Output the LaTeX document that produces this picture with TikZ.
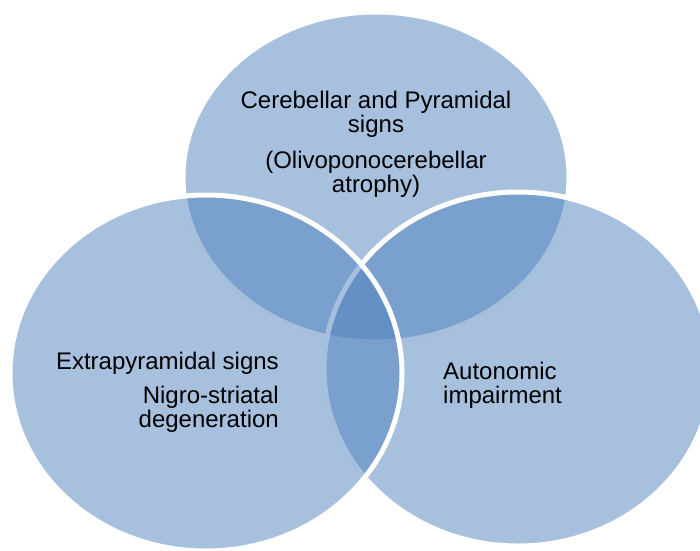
\documentclass[tikz,border=0pt]{standalone}
\usepackage{fontspec}
\setmainfont{Liberation Sans}
\definecolor{vennblue}{HTML}{4F81BD}
\begin{document}
\begin{tikzpicture}[x=1pt,y=-1pt,
  venn/.style={draw=white,line width=5pt,fill=vennblue,fill opacity=.5},
  lbl/.style={font=\fontsize{24}{24}\selectfont,inner sep=0pt,anchor=base}]
\useasboundingbox (0,0) rectangle (700,550);
% top, right, left (left one is drawn last)
\foreach \cx/\cy/\rx/\ry in {376/177/193/165,518/369/194/177,206/373/196/178}
{
    \draw[venn] (\cx,\cy) ellipse [x radius=\rx pt,y radius=\ry pt];
}

% base anchor of a two-line label sits on its last line
\node[lbl,align=center] (cereb) at (376,132) {Cerebellar and Pyramidal\\signs};
\node[lbl,align=center] (olivo) at (376,192) {(Olivoponocerebellar\\atrophy)};
\node[lbl,anchor=base east] (extra) at (279,369) {Extrapyramidal signs};
\node[lbl,align=right,anchor=base east] (nigro) at (279,427) {Nigro-striatal\\degeneration};
\node[lbl,align=left,anchor=base west] (auto) at (443,403) {Autonomic\\impairment};
\end{tikzpicture}
\end{document}
